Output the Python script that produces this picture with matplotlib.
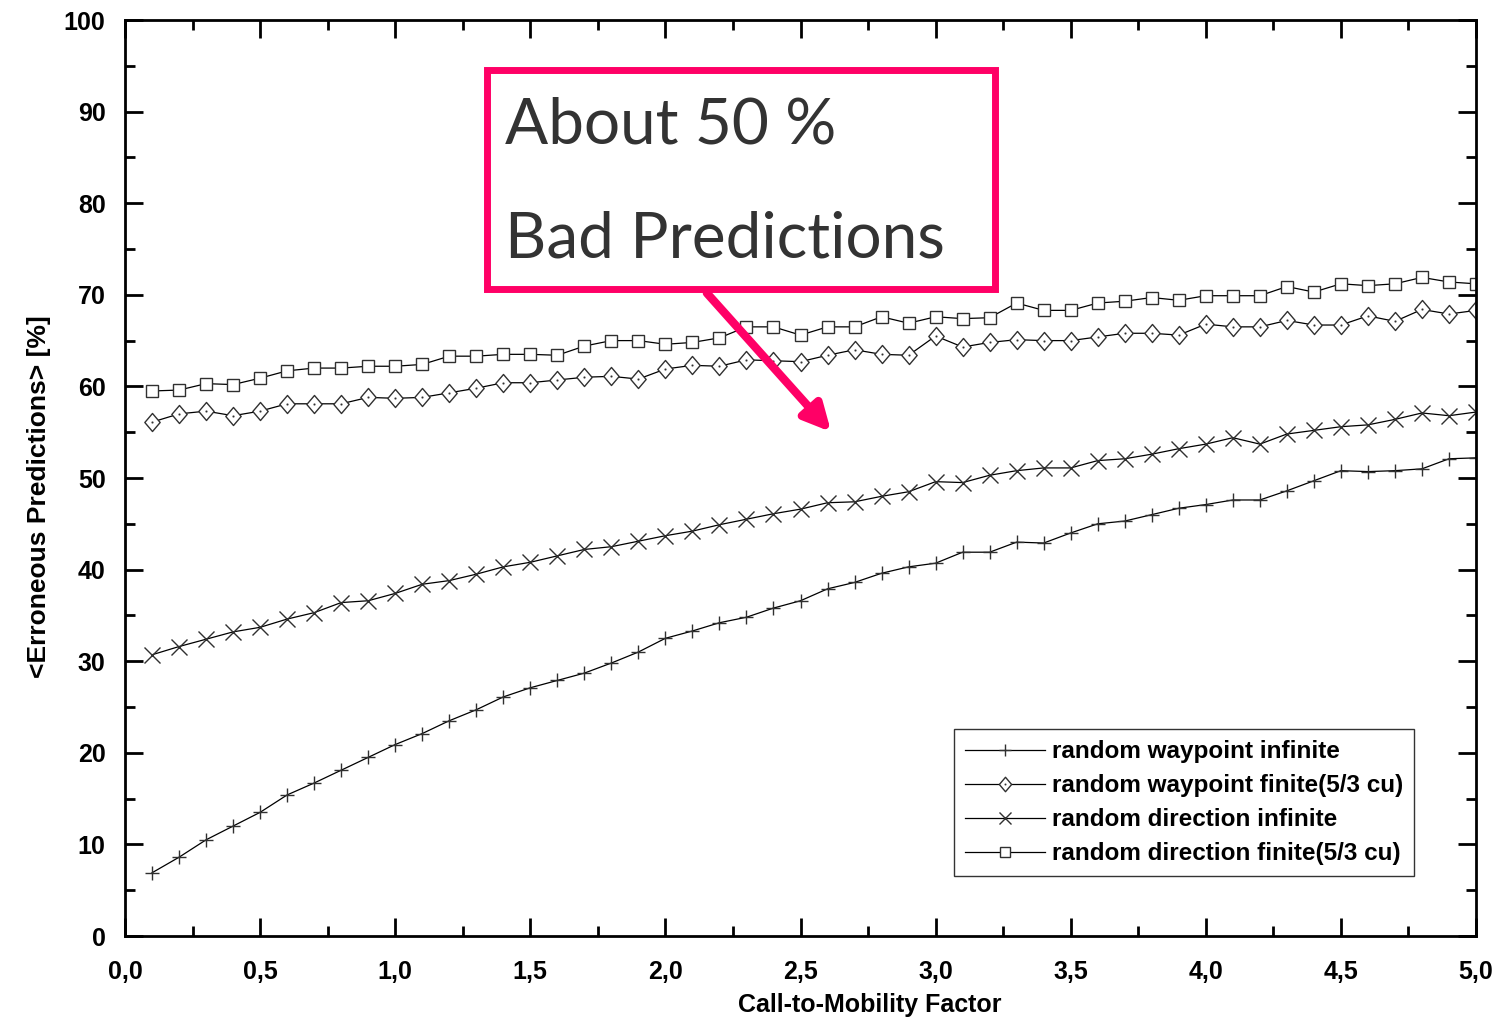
import matplotlib
matplotlib.use("Agg")
import matplotlib.pyplot as plt
from matplotlib.path import Path
from matplotlib.patches import Rectangle, FancyArrowPatch
from matplotlib.ticker import MultipleLocator, FuncFormatter

plt.rcParams['font.family'] = ['Liberation Sans', 'DejaVu Sans']

# Call-to-mobility factor values
factor = [round(0.1 * i, 1) for i in range(1, 51)]

waypoint_infinite = [6.9, 8.6, 10.5, 12.0, 13.5, 15.4, 16.7, 18.1, 19.5, 20.9,
                     22.1, 23.5, 24.7, 26.1, 27.1, 27.9, 28.7, 29.8, 31.0, 32.5,
                     33.3, 34.2, 34.8, 35.8, 36.6, 37.9, 38.6, 39.6, 40.3, 40.7,
                     41.9, 41.9, 43.0, 42.9, 44.0, 45.0, 45.3, 46.0, 46.7, 47.1,
                     47.6, 47.6, 48.6, 49.7, 50.8, 50.7, 50.8, 51.0, 52.1, 52.2]

waypoint_finite = [56.1, 57.0, 57.3, 56.8, 57.3, 58.1, 58.1, 58.1, 58.8, 58.7,
                   58.8, 59.3, 59.8, 60.4, 60.4, 60.7, 61.0, 61.1, 60.8, 61.9,
                   62.3, 62.2, 62.9, 62.8, 62.7, 63.4, 64.0, 63.5, 63.4, 65.5,
                   64.3, 64.8, 65.1, 65.0, 65.0, 65.4, 65.8, 65.8, 65.6, 66.8,
                   66.5, 66.5, 67.2, 66.7, 66.7, 67.7, 67.1, 68.4, 67.9, 68.3]

direction_infinite = [30.7, 31.6, 32.4, 33.2, 33.7, 34.6, 35.3, 36.4, 36.6, 37.4,
                      38.4, 38.8, 39.5, 40.3, 40.8, 41.5, 42.2, 42.5, 43.1, 43.7,
                      44.2, 44.9, 45.5, 46.1, 46.6, 47.3, 47.4, 48.0, 48.5, 49.6,
                      49.5, 50.3, 50.8, 51.1, 51.1, 51.9, 52.1, 52.6, 53.2, 53.7,
                      54.4, 53.7, 54.8, 55.2, 55.6, 55.8, 56.4, 57.1, 56.8, 57.2]

direction_finite = [59.5, 59.6, 60.3, 60.2, 60.9, 61.7, 62.0, 62.0, 62.2, 62.2,
                    62.4, 63.3, 63.3, 63.5, 63.5, 63.4, 64.4, 65.0, 65.0, 64.6,
                    64.8, 65.3, 66.5, 66.5, 65.6, 66.5, 66.5, 67.6, 66.9, 67.6,
                    67.4, 67.5, 69.1, 68.3, 68.3, 69.1, 69.3, 69.7, 69.4, 69.9,
                    69.9, 69.9, 70.9, 70.3, 71.2, 71.0, 71.2, 71.9, 71.4, 71.2]

series_labels = ["random waypoint infinite",
                 "random waypoint finite(5/3 cu)",
                 "random direction infinite",
                 "random direction finite(5/3 cu)"]

x_ticks = [0.0, 0.5, 1.0, 1.5, 2.0, 2.5, 3.0, 3.5, 4.0, 4.5, 5.0]
y_ticks = [0, 10, 20, 30, 40, 50, 60, 70, 80, 90, 100]

# Diamond marker with a dot in the middle
w, h, e = 0.85, 1.0, 0.035
verts = [(0, h), (w, 0), (0, -h), (-w, 0), (0, h),
         (-e, -e), (e, -e), (e, e), (-e, e), (-e, -e)]
codes = [Path.MOVETO, Path.LINETO, Path.LINETO, Path.LINETO, Path.CLOSEPOLY,
         Path.MOVETO, Path.LINETO, Path.LINETO, Path.LINETO, Path.CLOSEPOLY]
dot_diamond = Path(verts, codes)

fig = plt.figure(figsize=(15.01, 10.24), dpi=100)
ax = fig.add_axes([125 / 1501, 1 - 936 / 1024, 1351 / 1501, 916 / 1024])

common = dict(color='black', linewidth=0.9, markeredgecolor='#303030',
              markerfacecolor='white', markeredgewidth=1.0)
ax.plot(factor, waypoint_infinite, marker='+', markersize=10, label=series_labels[0], **common)
ax.plot(factor, waypoint_finite, marker=dot_diamond, markersize=13, label=series_labels[1], **common)
ax.plot(factor, direction_infinite, marker='x', markersize=11, label=series_labels[2], **common)
ax.plot(factor, direction_finite, marker='s', markersize=9, label=series_labels[3], **common)

ax.set_xlim(0, 5)
ax.set_ylim(0, 100)
ax.set_xticks(x_ticks)
ax.set_yticks(y_ticks)
ax.xaxis.set_minor_locator(MultipleLocator(0.25))
ax.yaxis.set_minor_locator(MultipleLocator(5))
ax.xaxis.set_major_formatter(FuncFormatter(lambda v, p: f"{v:.1f}".replace('.', ',')))
ax.tick_params(which='both', direction='in', top=True, right=True, width=2)
ax.tick_params(which='major', length=13, labelsize=18)
ax.tick_params(which='minor', length=7)
ax.tick_params(axis='x', which='major', pad=17)
ax.tick_params(axis='y', which='major', pad=14)
for lbl in ax.get_xticklabels() + ax.get_yticklabels():
    lbl.set_fontweight('bold')
for s in ax.spines.values():
    s.set_linewidth(2)

ax.set_xlabel("Call-to-Mobility Factor", fontsize=18, fontweight='bold')
ax.xaxis.set_label_coords(0.551, -0.062)
ax.set_ylabel("<Erroneous Predictions> [%]", fontsize=19, fontweight='bold')
ax.yaxis.set_label_coords(-0.055, 0.480)

leg = ax.legend(loc='lower right', bbox_to_anchor=(0.954, 0.0655), borderaxespad=0,
                prop={'size': 17.5, 'weight': 'bold'}, fancybox=False, frameon=True,
                handlelength=3.3, labelspacing=0.45, borderpad=0.45,
                handletextpad=0.28, markerscale=0.8)
leg.get_frame().set_edgecolor('black')
leg.get_frame().set_linewidth(1.0)

# Callout box with arrow
pink = '#ff0066'
fig.add_artist(Rectangle((486.5 / 1501, 1 - 288.5 / 1024), 508 / 1501, 219 / 1024,
                         transform=fig.transFigure, fill=False,
                         edgecolor=pink, linewidth=5, zorder=5))
fig.text(505 / 1501, 1 - 143 / 1024, "About 50 %", fontsize=46,
         family='Lato', color='#333333', va='baseline', ha='left')
fig.text(505 / 1501, 1 - 258 / 1024, "Bad Predictions", fontsize=46,
         family='Lato', color='#333333', va='baseline', ha='left')
arrow = FancyArrowPatch((705 / 1501, 1 - 291 / 1024), (833 / 1501, 1 - 434 / 1024),
                        transform=fig.transFigure, arrowstyle='-|>',
                        mutation_scale=40, linewidth=6, color=pink, zorder=4)
fig.add_artist(arrow)

fig.savefig("out.png", dpi=100)
